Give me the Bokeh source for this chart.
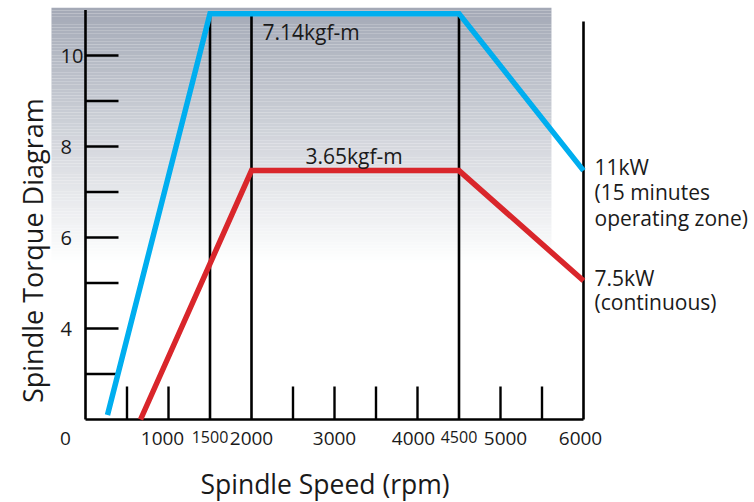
import numpy as np
from bokeh.plotting import figure
from bokeh.models import Range1d
from bokeh.core.properties import value
from bokeh.embed import file_html
from bokeh.resources import INLINE

# ---------------- data ----------------
speed_15min = [265, 1500, 4500, 6000]
torque_15min = [2.1, 10.92, 10.92, 7.47]
speed_cont = [663, 2000, 4500, 6000]
torque_cont = [2.0, 7.47, 7.47, 5.05]

y_tick_values = [3, 4, 5, 6, 7, 8, 9, 10]
y_label_values = [4, 6, 8, 10]
y_label_texts = ["4", "6", "8", "10"]

x_short_ticks = [500, 1000, 2500, 3000, 3500, 4000, 5000, 5500]
x_tall_lines = [1500, 2000, 4500, 6000]
x_tall_tops = [10.9, 10.95, 10.95, 10.75]
x_label_values = [0, 1000, 2000, 3000, 4000, 5000, 6000]
x_label_texts = ["0", "1000", "2000", "3000", "4000", "5000", "6000"]
x_small_values = [1500, 4500]
x_small_texts = ["1500", "4500"]

torque_notes = ["7.14kgf-m", "3.65kgf-m"]
note_15min = ["11kW", "(15 minutes", "operating zone)"]
note_cont = ["7.5kW", "(continuous)"]

# ---------------- styling ----------------
FONT = value("Open Sans")
TXT = "#1a1a1a"
BLUE = "#00aeef"
RED = "#d9262b"
W, H = 754, 502
PX_X = 0.083   # px per rpm
PX_Y = 45.5    # px per torque unit
X0, Y0 = 85, 419  # canvas pixel of (0 rpm, torque 2)

x_range = Range1d(-X0 / PX_X, (W - X0) / PX_X)
y_range = Range1d(2 - (H - Y0) / PX_Y, 2 + Y0 / PX_Y)

p = figure(width=W, height=H, x_range=x_range, y_range=y_range,
           x_axis_type=None, y_axis_type=None, min_border=0,
           toolbar_location=None, output_backend="svg")
p.grid.visible = False
p.outline_line_color = None
p.background_fill_color = "white"
p.border_fill_color = "white"

# gradient background panel
g_left, g_right = -410, 5614
g_bottom, g_top = 5.45, 11.05
n = 90
edges = np.linspace(g_bottom, g_top, n + 1)
top_rgb = np.array([163, 169, 182])
bot_rgb = np.array([255, 255, 255])
cols = []
for i in range(n):
    t = (i + 0.5) / n
    c = bot_rgb + (top_rgb - bot_rgb) * t
    cols.append("#%02x%02x%02x" % tuple(int(round(v)) for v in c))
p.quad(left=g_left, right=g_right, bottom=edges[:-1], top=edges[1:],
       fill_color=cols, line_color=None)

# axes lines
p.segment(x0=[0, 0], y0=[2, 2], x1=[0, 6000], y1=[11.0, 2],
          line_color="black", line_width=2.6)
# y ticks (inward)
p.ray(x=[0] * len(y_tick_values), y=y_tick_values, length=33,
      length_units="screen", angle=0, line_color="black", line_width=2.4)
# x short ticks (inward)
p.ray(x=x_short_ticks, y=[2] * len(x_short_ticks), length=33,
      length_units="screen", angle=np.pi / 2, line_color="black", line_width=2.4)
# tall reference lines
p.segment(x0=x_tall_lines, y0=[2] * 4, x1=x_tall_lines, y1=x_tall_tops,
          line_color="black", line_width=2.6)

# curves
p.line(speed_15min, torque_15min, line_color=BLUE, line_width=5.5, line_join="miter")
p.line(speed_cont, torque_cont, line_color=RED, line_width=5.5, line_join="miter")

# y tick labels
p.text(x=[0] * 4, y=y_label_values, text=y_label_texts, x_offset=-25,
       text_align="left", text_baseline="middle", text_font=FONT,
       text_font_size="20px", text_color=TXT)
# x tick labels
x_label_dx = [-20, -6, 0, 0, -4, 5, -3]
for xv, tx, dx in zip(x_label_values, x_label_texts, x_label_dx):
    p.text(x=[xv], y=[2], text=[tx], x_offset=dx, y_offset=19,
           text_align="center", text_baseline="middle", text_font=FONT,
           text_font_size="19px", text_color=TXT)
p.text(x=x_small_values, y=[2, 2], text=x_small_texts, y_offset=17,
       text_align="center", text_baseline="middle", text_font=FONT,
       text_font_size="16px", text_color=TXT)

# axis titles
p.text(x=[2886], y=[2], text=["Spindle Speed (rpm)"], y_offset=64,
       text_align="center", text_baseline="middle", text_font=FONT,
       text_font_size="26.5px", text_color=TXT)
p.text(x=[-639], y=[5.71], text=["Spindle Torque Diagram"], angle=np.pi / 2,
       text_align="center", text_baseline="middle", text_font=FONT,
       text_font_size="27px", text_color=TXT)

# plateau notes
p.text(x=[2000], y=[torque_15min[1]], text=[torque_notes[0]], x_offset=11, y_offset=18.5,
       text_align="left", text_baseline="middle", text_font=FONT,
       text_font_size="21px", text_color=TXT)
p.text(x=[2000], y=[torque_cont[1]], text=[torque_notes[1]], x_offset=54, y_offset=-15,
       text_align="left", text_baseline="middle", text_font=FONT,
       text_font_size="21px", text_color=TXT)

# end notes
for i, tx in enumerate(note_15min):
    p.text(x=[6000], y=[torque_15min[-1]], text=[tx], x_offset=11, y_offset=-4 + 25.5 * i,
           text_align="left", text_baseline="middle", text_font=FONT,
           text_font_size="21px", text_color=TXT)
for i, tx in enumerate(note_cont):
    p.text(x=[6000], y=[torque_cont[-1]], text=[tx], x_offset=11, y_offset=-3 + 24 * i,
           text_align="left", text_baseline="middle", text_font=FONT,
           text_font_size="21px", text_color=TXT)

open("out.html", "w").write(file_html(p, INLINE))
